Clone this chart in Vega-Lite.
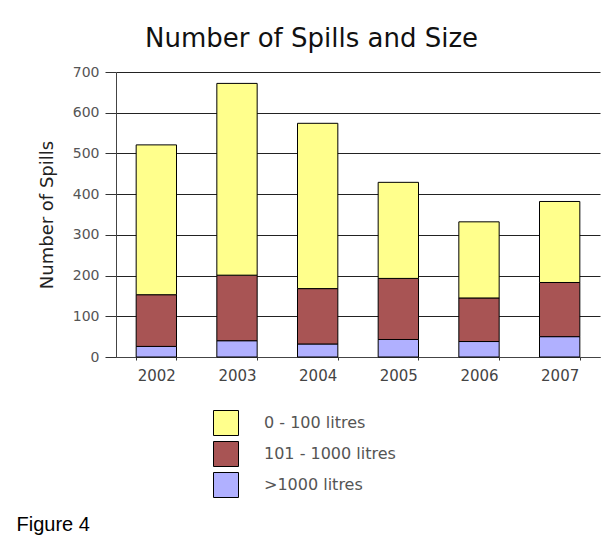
{
  "$schema": "https://vega.github.io/schema/vega-lite/v6.json",
  "width": 484,
  "height": 285,
  "autosize": {"type": "none"},
  "padding": {"left": 116, "top": 72, "right": 8, "bottom": 184},
  "background": "white",
  "title": {
    "text": "Number of Spills and Size",
    "font": "DejaVu Sans",
    "fontSize": 26,
    "fontWeight": "normal",
    "color": "#111",
    "anchor": "start",
    "dx": 129,
    "offset": 13
  },
  "data": {
    "values": [
      {"year": "2002", "size": ">1000 litres", "count": 26},
      {"year": "2002", "size": "101 - 1000 litres", "count": 127},
      {"year": "2002", "size": "0 - 100 litres", "count": 368},
      {"year": "2003", "size": ">1000 litres", "count": 40},
      {"year": "2003", "size": "101 - 1000 litres", "count": 161},
      {"year": "2003", "size": "0 - 100 litres", "count": 471},
      {"year": "2004", "size": ">1000 litres", "count": 32},
      {"year": "2004", "size": "101 - 1000 litres", "count": 136},
      {"year": "2004", "size": "0 - 100 litres", "count": 406},
      {"year": "2005", "size": ">1000 litres", "count": 43},
      {"year": "2005", "size": "101 - 1000 litres", "count": 150},
      {"year": "2005", "size": "0 - 100 litres", "count": 236},
      {"year": "2006", "size": ">1000 litres", "count": 38},
      {"year": "2006", "size": "101 - 1000 litres", "count": 107},
      {"year": "2006", "size": "0 - 100 litres", "count": 187},
      {"year": "2007", "size": ">1000 litres", "count": 50},
      {"year": "2007", "size": "101 - 1000 litres", "count": 133},
      {"year": "2007", "size": "0 - 100 litres", "count": 199}
    ]
  },
  "mark": {"type": "bar", "stroke": "black", "strokeWidth": 1},
  "encoding": {
    "x": {
      "field": "year",
      "type": "ordinal",
      "scale": {"paddingInner": 0.5, "paddingOuter": 0.25},
      "axis": {
        "title": "Figure 4",
        "titleFont": "Liberation Sans",
        "titleFontSize": 20,
        "titleFontWeight": "normal",
        "titleColor": "black",
        "titleAnchor": "start",
        "titleAlign": "left",
        "titleBaseline": "alphabetic",
        "titleX": -100,
        "titleY": 173,
        "labelAngle": 0,
        "labelFont": "DejaVu Sans",
        "labelFontSize": 15,
        "labelColor": "#444",
        "labelPadding": 8,
        "tickBand": "extent",
        "tickSize": 3,
        "tickColor": "#333",
        "domainColor": "#444",
        "grid": false
      }
    },
    "y": {
      "field": "count",
      "type": "quantitative",
      "stack": "zero",
      "scale": {"domain": [0, 700], "nice": false},
      "axis": {
        "values": [0, 100, 200, 300, 400, 500, 600, 700],
        "title": "Number of Spills",
        "titleFont": "DejaVu Sans",
        "titleFontSize": 18,
        "titleFontWeight": "normal",
        "titleColor": "#222",
        "titlePadding": 16,
        "labelFont": "DejaVu Sans",
        "labelFontSize": 14,
        "labelColor": "#555",
        "labelPadding": 6,
        "tickSize": 11,
        "tickColor": "#333",
        "domainColor": "#444",
        "grid": true,
        "gridColor": "#222",
        "gridWidth": 1
      }
    },
    "color": {
      "field": "size",
      "type": "nominal",
      "scale": {
        "domain": ["0 - 100 litres", "101 - 1000 litres", ">1000 litres"],
        "range": ["#ffff8c", "#a85454", "#b0b0ff"]
      },
      "legend": {
        "title": null,
        "orient": "none",
        "legendX": 97,
        "legendY": 338,
        "padding": 0,
        "symbolType": "square",
        "symbolSize": 625,
        "symbolStrokeColor": "black",
        "symbolStrokeWidth": 1,
        "symbolOpacity": 1,
        "symbolFillColor": null,
        "labelFont": "DejaVu Sans",
        "labelFontSize": 16,
        "labelColor": "#555",
        "labelOffset": 25,
        "rowPadding": 1
      }
    },
    "order": {"field": "size", "sort": "descending"}
  },
  "config": {
    "view": {"stroke": null}
  }
}
